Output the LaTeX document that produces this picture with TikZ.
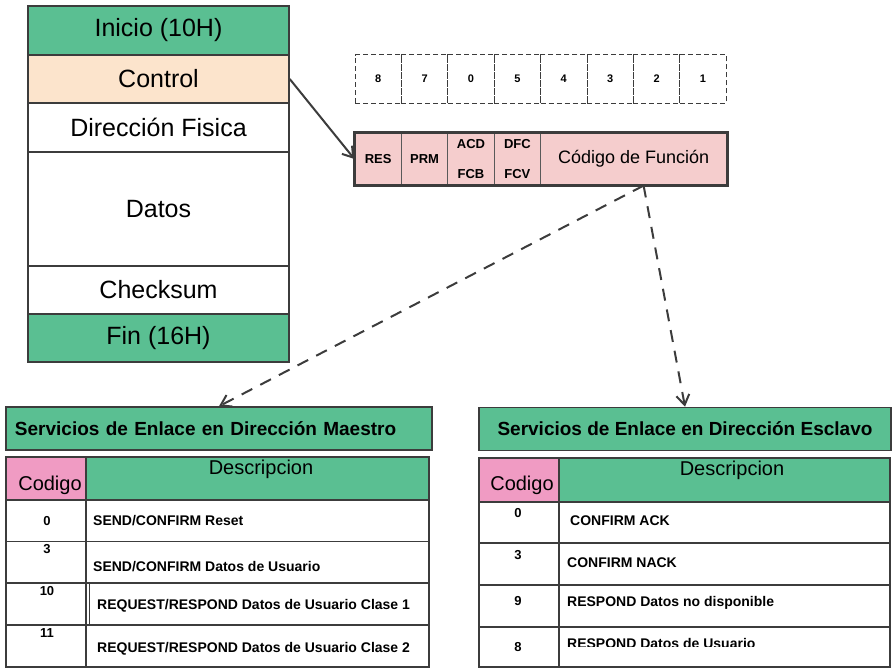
\documentclass[tikz,border=0pt]{standalone}
\usepackage{fontspec}
\setmainfont{Liberation Sans}
\usetikzlibrary{arrows.meta,positioning,fit,calc}
\definecolor{mint}{RGB}{90,191,146}
\definecolor{peach}{RGB}{252,228,204}
\definecolor{blush}{RGB}{245,205,205}
\definecolor{rose}{RGB}{240,155,195}
\definecolor{ink}{RGB}{60,60,60}
\newcommand{\fsz}[1]{\fontsize{#1}{#1}\selectfont}
\tikzset{
  >={Straight Barb[length=10pt,width=13pt]},
  field/.style={draw=ink,line width=1.5pt,fill=#1,minimum width=261pt,inner sep=0pt,font=\fsz{25}},
  field/.default=white,
  bit/.style={draw=ink,dash pattern=on 5pt off 3pt,line width=1pt,minimum width=46.4pt,
    minimum height=48pt,inner sep=0pt,font=\fsz{11}\bfseries},
  ctl/.style={draw=gray!70!black,line width=1.2pt,fill=blush,minimum height=52pt,inner sep=0pt,
    font=\fsz{13}\bfseries,align=center},
  ttl/.style={draw=ink,line width=1.5pt,fill=mint,minimum height=43pt,inner sep=9pt,font=\fsz{19}\bfseries},
  hcell/.style={draw=ink,line width=1.5pt,fill=#1,minimum height=44pt,inner sep=0pt},
  cell/.style={draw=ink,line width=1.5pt,fill=white,inner sep=0pt},
  htext/.style={font=\fsz{20},inner sep=0pt},
  num/.style={font=\fsz{13}\bfseries,inner sep=0pt},
  desc/.style={font=\fsz{14}\bfseries,inner sep=0pt,anchor=west},
  link/.style={->,draw=ink,line width=2pt},
  dlink/.style={->,draw=ink,line width=2pt,dash pattern=on 12pt off 9pt},
}

\begin{document}
\begin{tikzpicture}[x=1pt,y=-1pt]
  \useasboundingbox (0,0) rectangle (892,669);
  % frame
  \foreach \t/\c/\y/\h/\n in {Inicio (10H)/mint/30.5/49/ini, Control/peach/79/48/ctrl,
      Dirección Fisica/white/127.5/49/dir, Datos/white/209/114/dat,
      Checksum/white/290/48/chk, Fin (16H)/mint/338/48/fin}
    \node[field=\c,minimum height=\h pt] (\n) at (158.5,\y) {\t};

  % bits
  \foreach \b [count=\i from 0] in {8,7,0,5,4,3,2,1}
    \node[bit] (b\i) at (378.2+\i*46.4,79) {\b};

  % control byte
  \node[ctl,minimum width=46.4pt] (res) at (378.2,159) {RES};
  \node[ctl,minimum width=46.4pt] (prm) at (424.6,159) {PRM};
  \node[ctl,minimum width=46.4pt] (acd) at (471,159) {ACD\\[17pt]FCB};
  \node[ctl,minimum width=46.4pt] (dfc) at (517.4,159) {DFC\\[17pt]FCV};
  \node[ctl,minimum width=186pt,font=\fsz{18}] (func) at (633.6,159) {Código de Función};
  \node[draw=ink,line width=3pt,fit=(res)(func),inner sep=0pt] (cword) {};

  % master table
  \node[ttl,text width=408pt,align=left] (mtitle) at (219,428.5) {Servicios de Enlace en Dirección Maestro};
  \node[hcell=rose,minimum width=80pt] (mcod) at (46,479) {};
  \node[hcell=mint,minimum width=343pt] (mdsc) at (257.5,479) {};
  \node[htext] at (50,485) {Codigo};
  \node[htext] at (261,469) {Descripcion};
  \foreach \c/\d/\y/\h/\ny/\ty/\tx [count=\i] in {
      0/{SEND/CONFIRM Reset}/521/42/521/521/93,
      3/{SEND/CONFIRM Datos de Usuario}/562/41/549/567/93,
      10/{REQUEST/RESPOND Datos de Usuario Clase 1}/604/42/591/606/97,
      11/{REQUEST/RESPOND Datos de Usuario Clase 2}/646/42/633/649/97}
  {
    \node[cell,minimum width=80pt,minimum height=\h pt] (mc\i) at (46,\y) {};
    \node[cell,minimum width=343pt,minimum height=\h pt] (md\i) at (257.5,\y) {};
    \node[num] at (47,\ny) {\c};
    \node[desc] at (\tx,\ty) {\d};
  }
  \draw[ink,line width=1.2pt] ([xshift=4pt]md3.north west) -- ([xshift=4pt]md3.south west);

  % slave table
  \node[ttl,minimum width=412pt] (etitle) at (685,429) {Servicios de Enlace en Dirección Esclavo};
  \node[hcell=rose,minimum width=80pt] (ecod) at (519,480) {};
  \node[hcell=mint,minimum width=331pt] (edsc) at (724.5,480) {};
  \node[htext] at (522,485) {Codigo};
  \node[htext] at (732,470) {Descripcion};
  \foreach \c/\d/\y/\h/\ny/\ty/\tx [count=\i] in {
      0/{CONFIRM ACK}/522.5/41/513/521/570,
      3/{CONFIRM NACK}/564/42/555/563/567,
      9/{RESPOND Datos no disponible}/606/42/601/603/567,
      8/{RESPOND Datos de Usuario}/647/40/647/643/567}
  {
    \node[cell,minimum width=80pt,minimum height=\h pt] (ec\i) at (519,\y) {};
    \node[cell,minimum width=331pt,minimum height=\h pt] (ed\i) at (724.5,\y) {};
    \node[num] at (518,\ny) {\c};
    \begin{scope}
      \clip (559,\y-\h/2) rectangle (890,646);
      \node[desc] at (\tx,\ty) {\d};
    \end{scope}
  }

  % links
  \coordinate (fs) at ([xshift=10pt]func.south);
  \draw[link] (ctrl.east) -- (res.west);
  \draw[dlink] (fs) -- (mtitle.north);
  \draw[dlink] (fs) -- (etitle.north);
\end{tikzpicture}
\end{document}
